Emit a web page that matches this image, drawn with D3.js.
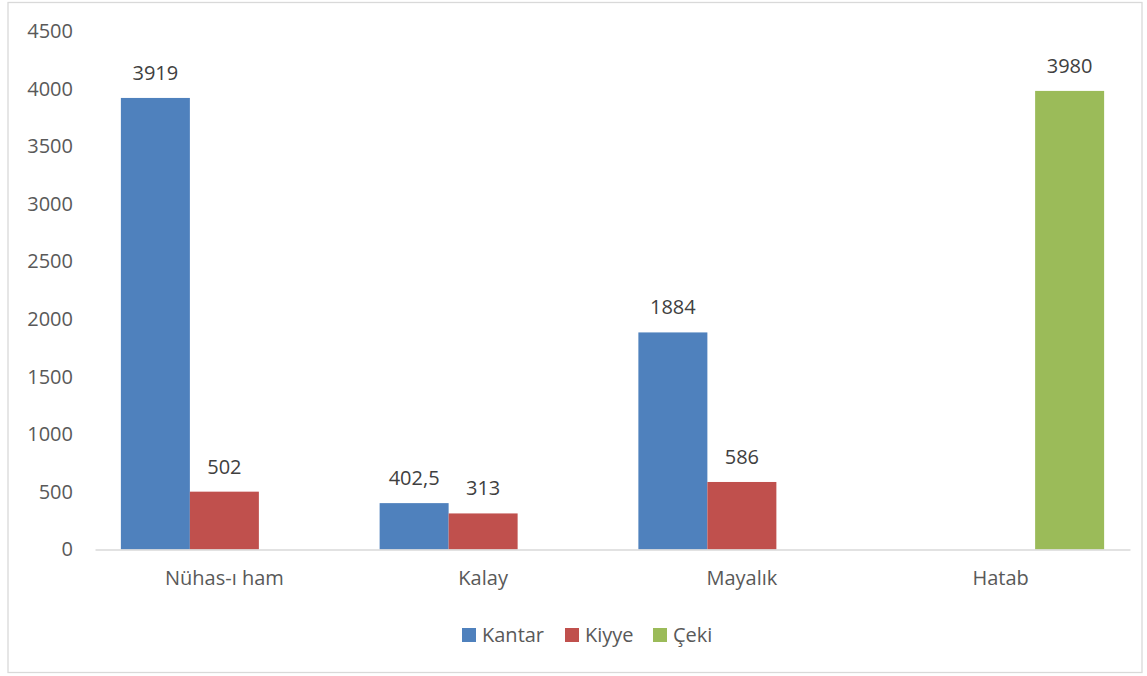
<!DOCTYPE html>
<html><head><meta charset="utf-8">
<script src="https://cdn.jsdelivr.net/npm/d3@7"></script>
<style>body{margin:0;background:#fff}svg{display:block}text{font-family:"Open Sans",sans-serif}</style>
</head><body><svg id="c" width="1147" height="676"></svg>
<script>
const categories = ["Nühas-ı ham","Kalay","Mayalık","Hatab"];
const seriesNames = ["Kantar","Kiyye","Çeki"];
const kantar = [3919, 402.5, 1884, null];
const kiyye = [502, 313, 586, null];
const ceki = [null, null, null, 3980];
const labels = {Kantar:["3919","402,5","1884",""],Kiyye:["502","313","586",""],"Çeki":["","","","3980"]};
const yTicks = [0,500,1000,1500,2000,2500,3000,3500,4000,4500];
const colors = ["#4F81BD","#C0504D","#9BBB59"];
const values = [kantar, kiyye, ceki];

(function(){
const FS = 20;
const svg = d3.select("#c");
svg.append("rect").attr("x",8).attr("y",2.5).attr("width",1134).attr("height",670)
  .attr("fill","#fff").attr("stroke","#d9d9d9").attr("stroke-width",1.3);

const pLeft=95, pRight=1130, pTop=31, pBottom=549.5;
const x0 = d3.scaleBand().domain(categories).range([pLeft,pRight]);
const y = d3.scaleLinear().domain([0,4500]).range([pBottom,pTop]);
const xs = d3.scaleBand().domain(seriesNames).range([0, x0.bandwidth()*0.8]);

const yAxis = d3.axisLeft(y).tickValues(yTicks).tickSize(0).tickPadding(22).tickFormat(d=>String(d));
const ya = svg.append("g").attr("transform",`translate(${pLeft},0)`).call(yAxis);
ya.select(".domain").remove();
ya.selectAll("text").attr("font-size",FS).attr("fill","#595959").attr("font-family","'Open Sans',sans-serif");

seriesNames.forEach((s,si)=>{
  const g = svg.append("g");
  categories.forEach((c,ci)=>{
    const v = values[si][ci];
    if(v==null) return;
    const bx = x0(c)+x0.bandwidth()*0.1+xs(s);
    g.append("rect").attr("x",bx).attr("y",y(v)).attr("width",xs.bandwidth()).attr("height",y(0)-y(v))
      .attr("fill",colors[si]);
    g.append("text").attr("x",bx+xs.bandwidth()/2).attr("y",y(v)-18).attr("text-anchor","middle")
      .attr("font-size",FS).attr("fill","#404040").text(labels[s][ci]);
  });
});

const xAxis = d3.axisBottom(x0).tickSize(0).tickPadding(21);
const xa = svg.append("g").attr("transform",`translate(0,${pBottom})`).call(xAxis);
xa.select(".domain").attr("stroke","#d9d9d9").attr("stroke-width",1.5);
xa.selectAll("text").attr("font-size",FS).attr("fill","#595959").attr("font-family","'Open Sans',sans-serif");

const legX = [462, 565, 653];
const leg = svg.append("g");
seriesNames.forEach((s,i)=>{
  leg.append("rect").attr("x",legX[i]).attr("y",628).attr("width",14).attr("height",14).attr("fill",colors[i]);
  leg.append("text").attr("x",legX[i]+20).attr("y",642).attr("font-size",FS).attr("fill","#595959").text(s);
});
})();
</script></body></html>
